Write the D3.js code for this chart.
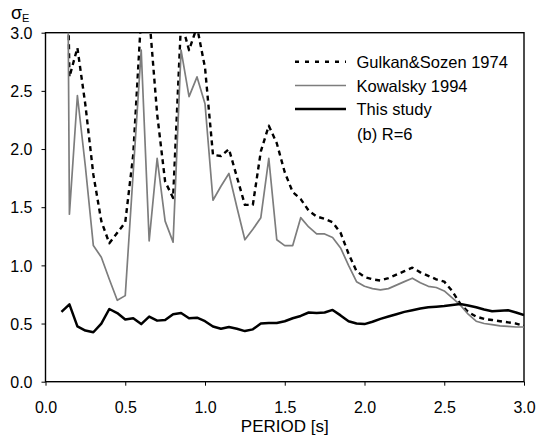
<!DOCTYPE html>
<html>
<head>
<meta charset="utf-8">
<script src="https://cdn.jsdelivr.net/npm/d3@7"></script>
<style>
  body { margin: 0; background: #fff; }
  svg { display: block; }
  text { font-family: "Liberation Sans", Arial, sans-serif; fill: #000; }
</style>
</head>
<body>
<svg id="chart" width="553" height="442"></svg>
<script>
const periods = [0.10,0.15,0.20,0.25,0.30,0.35,0.40,0.45,0.50,0.55,0.60,0.65,0.70,0.75,0.80,0.85,0.90,0.95,1.00,1.05,1.10,1.15,1.20,1.25,1.30,1.35,1.40,1.45,1.50,1.55,1.60,1.65,1.70,1.75,1.80,1.85,1.90,1.95,2.00,2.05,2.10,2.15,2.20,2.25,2.30,2.35,2.40,2.45,2.50,2.55,2.60,2.65,2.70,2.75,2.80,2.85,2.90,2.95,3.00];

const gulkanSozen = [7.0,2.62,2.87,2.38,1.78,1.38,1.19,1.28,1.37,1.95,3.15,3.15,2.30,1.72,1.58,3.10,2.85,3.05,2.70,1.95,1.94,2.00,1.76,1.52,1.52,1.98,2.20,2.05,1.80,1.63,1.57,1.47,1.42,1.40,1.37,1.28,1.10,0.95,0.90,0.88,0.87,0.89,0.92,0.95,0.98,0.94,0.91,0.88,0.86,0.78,0.67,0.60,0.56,0.54,0.53,0.52,0.51,0.50,0.48];

const kowalsky = [12,1.44,2.46,1.85,1.17,1.07,0.88,0.70,0.74,1.80,2.85,1.21,1.92,1.38,1.20,2.85,2.45,2.62,2.39,1.56,1.68,1.79,1.50,1.22,1.31,1.41,1.92,1.22,1.17,1.17,1.41,1.33,1.27,1.27,1.24,1.15,1.00,0.86,0.82,0.80,0.79,0.80,0.83,0.86,0.89,0.85,0.82,0.81,0.78,0.72,0.66,0.58,0.52,0.50,0.49,0.48,0.475,0.47,0.47];

const thisStudy = [0.60,0.665,0.475,0.44,0.425,0.50,0.625,0.59,0.535,0.545,0.495,0.56,0.525,0.53,0.58,0.59,0.545,0.55,0.52,0.475,0.455,0.47,0.455,0.435,0.45,0.50,0.505,0.505,0.52,0.545,0.565,0.595,0.59,0.595,0.617,0.57,0.52,0.50,0.495,0.515,0.54,0.56,0.58,0.60,0.615,0.63,0.64,0.645,0.65,0.66,0.668,0.655,0.64,0.62,0.605,0.61,0.614,0.595,0.573];

const xTicks = [0.0,0.5,1.0,1.5,2.0,2.5,3.0];
const yTicks = [0.0,0.5,1.0,1.5,2.0,2.5,3.0];
const seriesNames = ["Gulkan&Sozen 1974","Kowalsky 1994","This study"];
const noteText = "(b) R=6";
const xTitle = "PERIOD [s]";

const svg = d3.select("#chart");
const L = 45.5, R = 524, T = 32.7, B = 381.7;
const x = d3.scaleLinear().domain([0,3]).range([L,R]);
const y = d3.scaleLinear().domain([0,3]).range([B,T]);

svg.append("defs").append("clipPath").attr("id","plotclip")
  .append("rect").attr("x",L).attr("y",T).attr("width",R-L).attr("height",B-T);

// axes
const fmt = d3.format(".1f");
const xAxis = svg.append("g").attr("transform",`translate(0,${B})`)
  .call(d3.axisBottom(x).tickValues(xTicks).tickFormat(fmt).tickSize(4).tickSizeOuter(0).tickPadding(16));
const yAxis = svg.append("g").attr("transform",`translate(${L},0)`)
  .call(d3.axisLeft(y).tickValues(yTicks).tickFormat(fmt).tickSize(4).tickSizeOuter(0).tickPadding(9));
[xAxis,yAxis].forEach(g=>{
  g.select(".domain").remove();
  g.selectAll("line").attr("stroke","#000").attr("stroke-width",1);
  g.selectAll("text").attr("font-size","16px").attr("font-family",'"Liberation Sans", Arial, sans-serif').attr("fill","#000");
});
yAxis.selectAll("text").attr("dy","0.36em");

// frame
svg.append("rect").attr("x",L).attr("y",T).attr("width",R-L).attr("height",B-T)
  .attr("fill","none").attr("stroke","#000").attr("stroke-width",1.4);

const plot = svg.append("g").attr("clip-path","url(#plotclip)");
const lineGen = vals => d3.line().x((d,i)=>x(periods[i])).y(d=>y(d))(vals);

const styles = [
  {data: gulkanSozen, stroke:"#000", width:2.4, dash:"5,4", legDash:"4,6"},
  {data: kowalsky, stroke:"#7d7d7d", width:1.7, dash:null, legDash:null},
  {data: thisStudy, stroke:"#000", width:2.5, dash:null, legDash:null}
];
styles.forEach(s=>{
  plot.append("path").attr("d",lineGen(s.data)).attr("fill","none")
    .attr("stroke",s.stroke).attr("stroke-width",s.width)
    .attr("stroke-dasharray",s.dash).attr("stroke-linejoin","round");
});

// legend
const legY = [61.7, 85.5, 109];
seriesNames.forEach((name,i)=>{
  const s = styles[i];
  svg.append("line").attr("x1",295).attr("x2",346).attr("y1",legY[i]).attr("y2",legY[i])
    .attr("stroke",s.stroke).attr("stroke-width",s.width).attr("stroke-dasharray",s.legDash);
  svg.append("text").attr("x",356.5).attr("y",legY[i]+6.3).attr("font-size","16.5px").text(name);
});
svg.append("text").attr("x",357).attr("y",140).attr("font-size","16.5px").text(noteText);

// axis titles
svg.append("text").attr("x",(L+R)/2).attr("y",432).attr("text-anchor","middle")
  .attr("font-size","17px").text(xTitle);
const yt = svg.append("text").attr("x",11).attr("y",18.5).attr("font-size","18px");
yt.append("tspan").text("σ");
yt.append("tspan").attr("font-size","11px").attr("dy","3").text("E");
</script>
</body>
</html>
